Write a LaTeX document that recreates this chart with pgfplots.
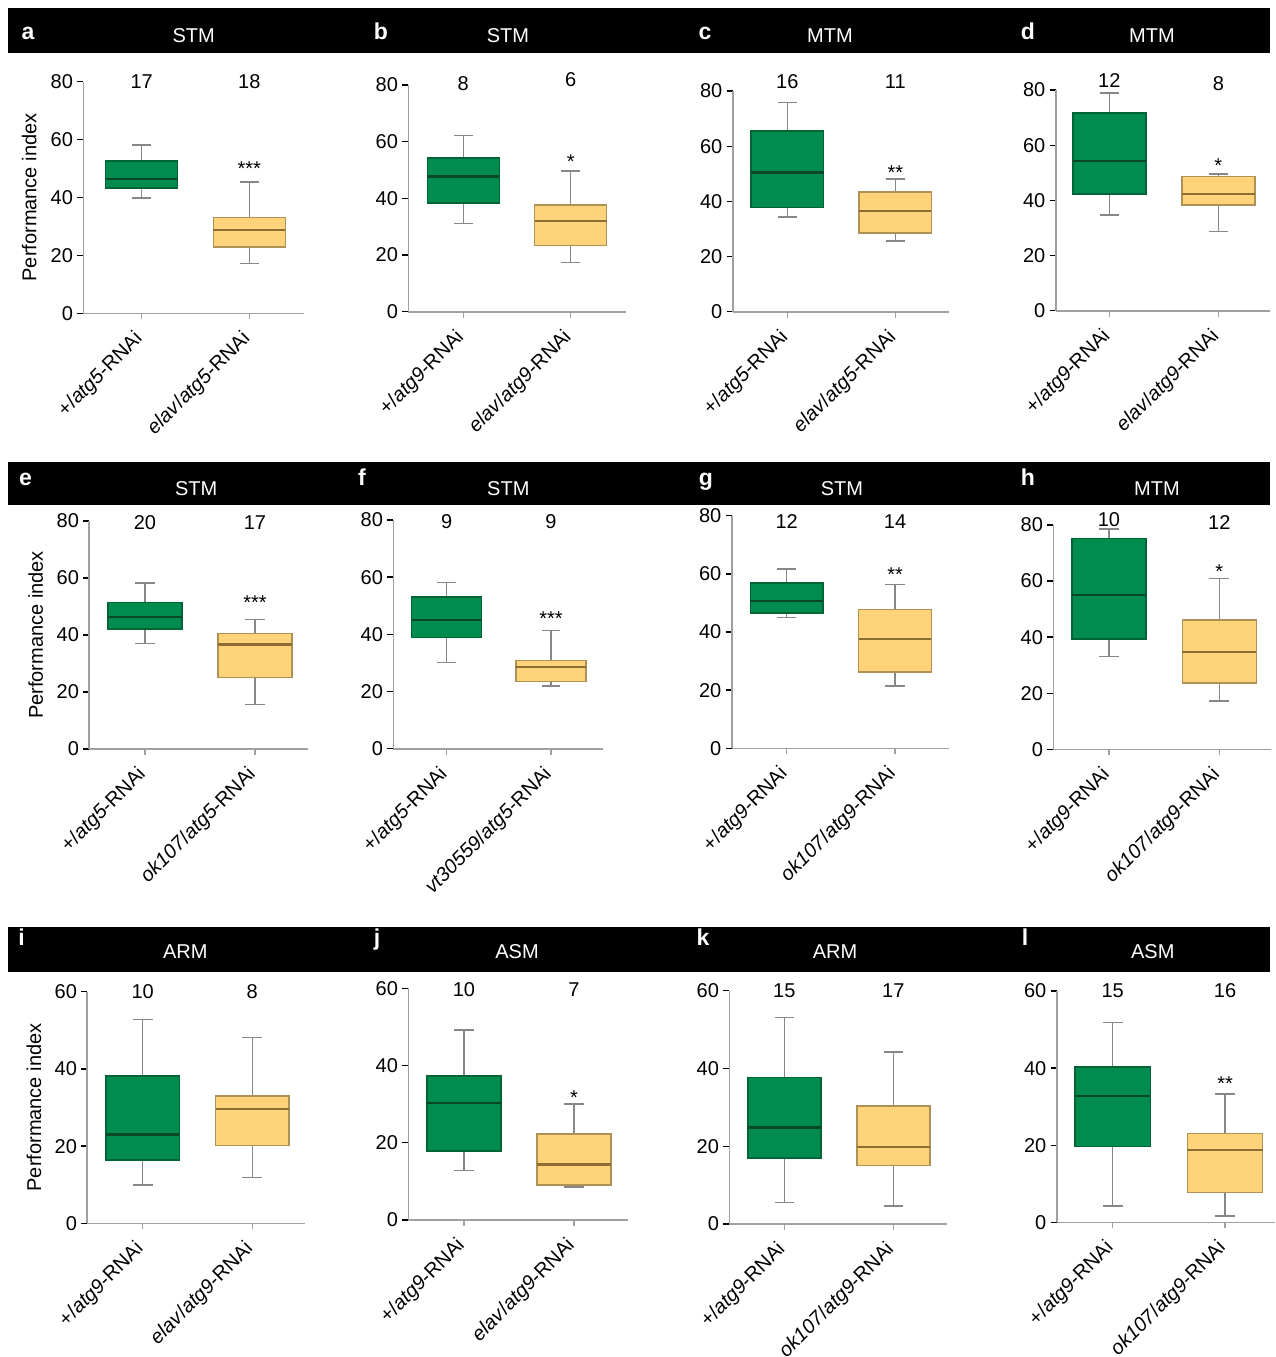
\documentclass[border=0pt]{standalone}
\usepackage{fontspec}
\setmainfont{Liberation Sans}
\usepackage{pgfplots}
\pgfplotsset{compat=1.18}
\usepgfplotslibrary{statistics}
\definecolor{gfill}{RGB}{0,140,78}
\definecolor{gedge}{RGB}{0,100,55}
\definecolor{gmed}{RGB}{10,70,40}
\definecolor{yfill}{RGB}{255,211,122}
\definecolor{yedge}{RGB}{175,145,85}
\definecolor{ymed}{RGB}{140,110,50}
\definecolor{wgray}{RGB}{135,135,135}
\definecolor{axgray}{RGB}{160,160,160}
\newcommand{\fs}{\fontsize{10}{11.5}\selectfont}
\pgfplotsset{
  panel/.style={scale only axis, anchor=south west, ymin=0,
    axis x line=bottom, axis y line=left,
    axis line style={-, draw=axgray, line width=0.8pt},
    xtick={0,1}, tick align=outside, major tick length=3pt,
    xtick style={draw=axgray, line width=0.6pt},
    ytick style={draw=black, line width=0.7pt},
    clip=false, enlargelimits=false,
    tick label style={font=\fs, /pgf/number format/assume math mode=true},
    yticklabel style={inner sep=1pt, xshift=-1pt},
    xticklabel style={rotate=45, anchor=north east, inner sep=0pt, xshift=-6.5pt, yshift=-0.2pt},
    boxplot/draw direction=y,
    boxplot/box extend=0.67, boxplot/whisker extend=0.18,
    ylabel style={at={(axis description cs:-0.245,0.5)}, anchor=center, font=\fs},
  },
  p80/.style={ymax=80, ytick={0,20,40,60,80}},
  p60/.style={ymax=60, ytick={0,20,40,60}},
  gst/.style={draw=gedge, line width=0.7pt,
    boxplot/every box/.style={draw=gedge, fill=gfill, line width=0.7pt},
    boxplot/every whisker/.style={draw=wgray, line width=0.7pt},
    boxplot/every median/.style={draw=gmed, line width=1.1pt}},
  yst/.style={draw=yedge, line width=0.7pt,
    boxplot/every box/.style={draw=yedge, fill=yfill, line width=0.7pt},
    boxplot/every whisker/.style={draw=wgray, line width=0.7pt},
    boxplot/every median/.style={draw=ymed, line width=1.1pt}},
}
\newcommand{\gbox}[5]{\addplot[gst, boxplot prepared={draw position=0, lower whisker=#1, lower quartile=#2, median=#3, upper quartile=#4, upper whisker=#5}] coordinates {};}
\newcommand{\ybox}[5]{\addplot[yst, boxplot prepared={draw position=1, lower whisker=#1, lower quartile=#2, median=#3, upper quartile=#4, upper whisker=#5}] coordinates {};}
\newcommand{\nlab}[2]{\node[font=\fs, inner sep=0pt, anchor=center] at (axis cs:#1) {#2};}
\newcommand{\stars}[2]{\node[font=\fs, inner sep=0pt, anchor=base, yshift=-5.7pt] at (axis cs:1,#1) {#2};}
\newcommand{\plet}[3]{\node[font=\bfseries\fontsize{11.5}{13}\selectfont, text=white, anchor=base, inner sep=0pt] at (#1*0.5pt,-#2*0.5pt) {#3};}
\newcommand{\ptit}[3]{\node[font=\fs, text=white, anchor=base, inner sep=0pt] at (#1*0.5pt,-#2*0.5pt) {#3};}
\begin{document}
\begin{tikzpicture}
\path[use as bounding box] (0,0) rectangle (638pt,-678.5pt);
% banners
\fill[black] (4pt,-4.2pt) rectangle (635pt,-26.7pt);
\fill[black] (4pt,-231pt) rectangle (635pt,-252.5pt);
\fill[black] (4pt,-463.5pt) rectangle (635pt,-486pt);
\plet{28}{39.3}{a}\ptit{193.7}{42.7}{STM}
\plet{381}{39.3}{b}\ptit{508}{42.7}{STM}
\plet{705}{39.3}{c}\ptit{830}{42.7}{MTM}
\plet{1028}{39.3}{d}\ptit{1152}{42.7}{MTM}
\plet{25.5}{485}{e}\ptit{196.2}{495}{STM}
\plet{362}{485}{f}\ptit{508.3}{495}{STM}
\plet{706}{485}{g}\ptit{842}{495}{STM}
\plet{1028}{485}{h}\ptit{1157}{495}{MTM}
\plet{21.5}{945}{i}\ptit{185.3}{958}{ARM}
\plet{377}{945}{j}\ptit{517}{958}{ASM}
\plet{703}{945}{k}\ptit{835}{958}{ARM}
\plet{1025}{945}{l}\ptit{1152.8}{958}{ASM}

% a
\begin{axis}[panel, p80, at={(41.65pt,-156.65pt)}, width=110.35pt, height=115.8pt, xmin=-0.543, xmax=1.508,
  ylabel={Performance index},
  xticklabels={{+/\textit{atg5}-RNAi},{\textit{elav}/\textit{atg5}-RNAi}}]
\gbox{39.9}{43.3}{46.4}{52.6}{58.1}
\ybox{17.3}{22.9}{28.7}{33.2}{45.3}
\nlab{0,80}{17}\nlab{1,80}{18}\stars{51.5}{***}
\end{axis}
% b
\begin{axis}[panel, p80, at={(204.15pt,-155.85pt)}, width=108.7pt, height=113.35pt, xmin=-0.512, xmax=1.512,
  xticklabels={{+/\textit{atg9}-RNAi},{\textit{elav}/\textit{atg9}-RNAi}}]
\gbox{31.1}{38.3}{47.7}{54.3}{62.1}
\ybox{17.4}{23.3}{32.0}{37.6}{49.7}
\nlab{0,80.6}{8}\nlab{1,81.8}{6}\stars{54.7}{*}
\end{axis}
% c
\begin{axis}[panel, p80, at={(366.35pt,-155.85pt)}, width=108.3pt, height=110.35pt, xmin=-0.506, xmax=1.5,
  xticklabels={{+/\textit{atg5}-RNAi},{\textit{elav}/\textit{atg5}-RNAi}}]
\gbox{34.4}{37.8}{50.5}{65.5}{75.9}
\ybox{25.7}{28.6}{36.5}{43.4}{48.1}
\nlab{0,83.3}{16}\nlab{1,83.3}{11}\stars{52.0}{**}
\end{axis}
% d
\begin{axis}[panel, p80, at={(527.85pt,-155.35pt)}, width=107.15pt, height=110.35pt, xmin=-0.492, xmax=1.474,
  xticklabels={{+/\textit{atg9}-RNAi},{\textit{elav}/\textit{atg9}-RNAi}}]
\gbox{34.7}{42.3}{54.2}{71.7}{78.9}
\ybox{28.8}{38.3}{42.3}{48.7}{49.6}
\nlab{0,83.4}{12}\nlab{1,82.5}{8}\stars{54.4}{*}
\end{axis}
% e
\begin{axis}[panel, p80, at={(44.65pt,-374.5pt)}, width=109.5pt, height=114pt, xmin=-0.506, xmax=1.485,
  ylabel={Performance index},
  xticklabels={{+/\textit{atg5}-RNAi},{\textit{ok107}/\textit{atg5}-RNAi}}]
\gbox{37.1}{42.1}{46.4}{51.5}{58.2}
\ybox{15.7}{25.2}{36.7}{40.6}{45.5}
\nlab{0,79.3}{20}\nlab{1,79.3}{17}\stars{53.0}{***}
\end{axis}
% f
\begin{axis}[panel, p80, at={(196.65pt,-374.35pt)}, width=105pt, height=114.35pt, xmin=-0.512, xmax=1.501,
  xticklabels={{+/\textit{atg5}-RNAi},{\textit{vt30559}/\textit{atg5}-RNAi}}]
\gbox{30.2}{39.0}{45.0}{53.1}{58.1}
\ybox{22.0}{23.5}{28.7}{30.9}{41.3}
\nlab{0,79.4}{9}\nlab{1,79.4}{9}\stars{47.1}{***}
\end{axis}
% g
\begin{axis}[panel, p80, at={(365.85pt,-374.15pt)}, width=108.8pt, height=116.3pt, xmin=-0.508, xmax=1.501,
  xticklabels={{+/\textit{atg9}-RNAi},{\textit{ok107}/\textit{atg9}-RNAi}}]
\gbox{44.9}{46.5}{50.8}{56.8}{61.7}
\ybox{21.5}{26.3}{37.5}{47.7}{56.4}
\nlab{0,78}{12}\nlab{1,78}{14}\stars{61.3}{**}
\end{axis}
% h
\begin{axis}[panel, p80, at={(526.65pt,-374.65pt)}, width=108.9pt, height=112.15pt, xmin=-0.505, xmax=1.47,
  xticklabels={{+/\textit{atg9}-RNAi},{\textit{ok107}/\textit{atg9}-RNAi}}]
\gbox{33.0}{39.3}{54.9}{75.2}{78.6}
\ybox{17.2}{23.6}{34.7}{46.1}{60.9}
\nlab{0,82.1}{10}\nlab{1,80.8}{12}\stars{65.1}{*}
\end{axis}
% i
\begin{axis}[panel, p60, at={(43.65pt,-611.65pt)}, width=108.85pt, height=115.8pt, xmin=-0.505, xmax=1.481,
  ylabel={Performance index},
  xticklabels={{+/\textit{atg9}-RNAi},{\textit{elav}/\textit{atg9}-RNAi}}]
\gbox{9.9}{16.4}{23.0}{38.2}{52.8}
\ybox{11.8}{20.1}{29.6}{33.0}{48.2}
\nlab{0,60}{10}\nlab{1,60}{8}
\end{axis}
% j
\begin{axis}[panel, p60, at={(204.15pt,-610pt)}, width=109.85pt, height=115.85pt, xmin=-0.506, xmax=1.491,
  xticklabels={{+/\textit{atg9}-RNAi},{\textit{elav}/\textit{atg9}-RNAi}}]
\gbox{12.9}{17.9}{30.4}{37.3}{49.2}
\ybox{8.5}{9.1}{14.4}{22.3}{30.0}
\nlab{0,59.6}{10}\nlab{1,59.6}{7}\stars{32.8}{*}
\end{axis}
% k
\begin{axis}[panel, p60, at={(364.65pt,-612pt)}, width=108.7pt, height=116.65pt, xmin=-0.505, xmax=1.49,
  xticklabels={{+/\textit{atg9}-RNAi},{\textit{ok107}/\textit{atg9}-RNAi}}]
\gbox{5.5}{17.0}{24.8}{37.7}{53.1}
\ybox{4.6}{15.0}{19.9}{30.4}{44.2}
\nlab{0,60}{15}\nlab{1,60}{17}
\end{axis}
% l
\begin{axis}[panel, p60, at={(528.35pt,-611.15pt)}, width=109.15pt, height=115.65pt, xmin=-0.499, xmax=1.445,
  xticklabels={{+/\textit{atg9}-RNAi},{\textit{ok107}/\textit{atg9}-RNAi}}]
\gbox{4.2}{19.6}{32.7}{40.3}{51.8}
\ybox{1.6}{7.7}{18.8}{23.1}{33.3}
\nlab{0,60}{15}\nlab{1,60}{16}\stars{37.2}{**}
\end{axis}
\end{tikzpicture}
\end{document}
